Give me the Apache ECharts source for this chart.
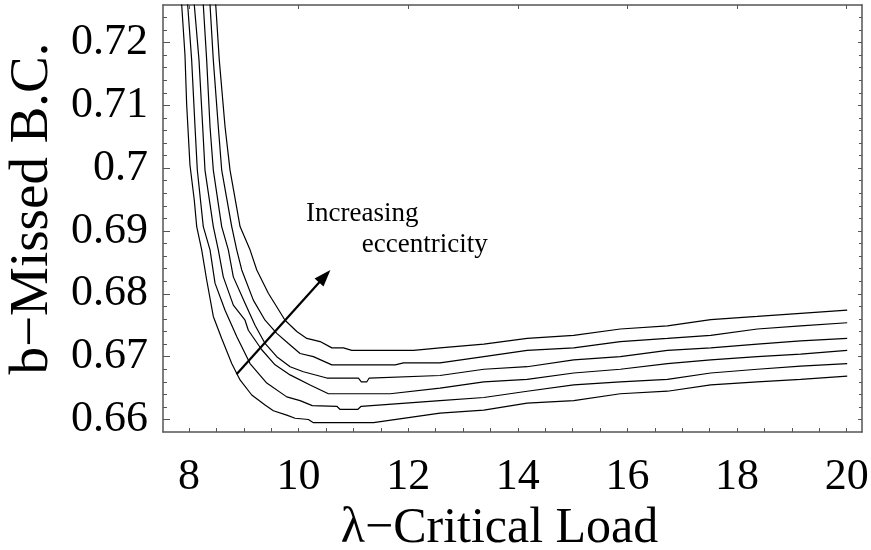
<!DOCTYPE html>
<html>
<head>
<meta charset="utf-8">
<script src="https://cdn.jsdelivr.net/npm/echarts@6/dist/echarts.min.js"></script>
<style>
html,body{margin:0;padding:0;background:#fff;}
#chart{width:871px;height:550px;}
</style>
</head>
<body>
<div id="chart"></div>
<script>
// ---- data (λ, b) ----
const curve1 = [[7.832,0.7300],[7.867,0.7260],[7.927,0.7180],[7.958,0.7101],[8.018,0.7005],[8.097,0.6949],[8.141,0.6907],[8.232,0.6870],[8.323,0.6822],[8.444,0.6764],[8.597,0.6729],[8.780,0.6689],[8.932,0.6663],[9.145,0.6639],[9.388,0.6623],[9.540,0.6614],[9.784,0.6607],[9.936,0.6602],[10.179,0.6600],[10.270,0.6595],[11.366,0.6595],[12.58,0.6610],[13.38,0.6615],[14.17,0.6626],[15.02,0.6630],[15.87,0.6641],[16.73,0.6645],[17.52,0.6655],[18.37,0.6660],[19.16,0.6664],[20.01,0.6669]];
const curve2 = [[7.943,0.7300],[7.976,0.7260],[8.049,0.7172],[8.110,0.7066],[8.152,0.6997],[8.261,0.6907],[8.384,0.6870],[8.475,0.6817],[8.658,0.6774],[8.871,0.6732],[9.114,0.6689],[9.419,0.6658],[9.784,0.6636],[10.027,0.6630],[10.25,0.6622],[10.698,0.6621],[10.758,0.6616],[11.078,0.6616],[11.142,0.6621],[12.58,0.6630],[13.38,0.6635],[14.17,0.6645],[15.02,0.6655],[15.87,0.6660],[16.73,0.6664],[17.52,0.6674],[18.37,0.6680],[19.16,0.6685],[20.01,0.6689]];
const curve3 = [[8.058,0.7300],[8.097,0.7260],[8.183,0.7172],[8.250,0.7066],[8.292,0.6997],[8.444,0.6907],[8.535,0.6870],[8.626,0.6827],[8.809,0.6782],[9.023,0.6758],[9.083,0.6742],[9.328,0.6711],[9.571,0.6687],[9.845,0.6671],[10.210,0.6655],[10.544,0.6641],[11.671,0.6641],[12.58,0.6650],[13.38,0.6660],[14.17,0.6664],[15.02,0.6674],[15.87,0.6680],[16.73,0.6689],[17.52,0.6695],[18.37,0.6700],[19.16,0.6704],[20.01,0.6710]];
const curve4 = [[8.234,0.7300],[8.261,0.7260],[8.323,0.7172],[8.384,0.7066],[8.444,0.6997],[8.597,0.6907],[8.718,0.6870],[8.809,0.6827],[9.023,0.6785],[9.205,0.6750],[9.388,0.6721],[9.602,0.6700],[9.845,0.6684],[10.088,0.6676],[10.515,0.6666],[11.092,0.6666],[11.145,0.6660],[11.246,0.6660],[11.288,0.6666],[12.58,0.6670],[13.38,0.6680],[14.17,0.6684],[15.02,0.6695],[15.87,0.6700],[16.73,0.6710],[17.52,0.6714],[18.37,0.6720],[19.16,0.6725],[20.01,0.6729]];
const curve5 = [[8.356,0.7300],[8.384,0.7260],[8.444,0.7172],[8.535,0.7066],[8.597,0.6997],[8.780,0.6907],[8.871,0.6870],[8.963,0.6838],[9.174,0.6790],[9.388,0.6758],[9.602,0.6737],[9.814,0.6721],[10.027,0.6705],[10.270,0.6700],[10.606,0.6687],[11.763,0.6687],[11.914,0.6690],[12.58,0.6690],[13.38,0.6700],[14.17,0.6710],[15.02,0.6714],[15.87,0.6724],[16.73,0.6729],[17.52,0.6734],[18.37,0.6744],[19.16,0.6749],[20.01,0.6754]];
const curve6 = [[8.458,0.7300],[8.488,0.7260],[8.553,0.7172],[8.658,0.7066],[8.749,0.6997],[8.932,0.6907],[9.114,0.6870],[9.237,0.6838],[9.448,0.6801],[9.753,0.6758],[9.967,0.6740],[10.150,0.6729],[10.393,0.6724],[10.607,0.6714],[10.818,0.6714],[10.971,0.6710],[12.097,0.6710],[12.58,0.6714],[13.38,0.6720],[14.17,0.6729],[15.02,0.6734],[15.87,0.6744],[16.73,0.6749],[17.52,0.6759],[18.37,0.6764],[19.16,0.6769],[20.01,0.6774]];

// ---- tick labels / ticks ----
const xTickLabels = [8,10,12,14,16,18,20];
const xMinorTicks = [8,8.5,9,9.5,10,10.5,11,11.5,12,12.5,13,13.5,14,14.5,15,15.5,16,16.5,17,17.5,18,18.5,19,19.5,20];
const yTickLabels = [0.66,0.67,0.68,0.69,0.70,0.71,0.72];
const yMinorTicks = [0.662,0.664,0.666,0.668,0.672,0.674,0.676,0.678,0.682,0.684,0.686,0.688,0.692,0.694,0.696,0.698,0.702,0.704,0.706,0.708,0.712,0.714,0.716,0.718,0.722,0.724];

// ---- annotation ----
const arrowFrom = [8.868, 0.6672];
const arrowTo = [10.477, 0.6828];
const annoTexts = [
  {text: 'Increasing', at: [10.137, 0.6927]},
  {text: 'eccentricity', at: [11.154, 0.6878]}
];

const FONT = '"Liberation Serif", "DejaVu Serif", serif';
const X_MIN = 7.526, X_MAX = 20.28, Y_MIN = 0.65801, Y_MAX = 0.72597;
const frameColor = '#555';

const chart = echarts.init(document.getElementById('chart'));

function lineSeries(d){
  return {type:'line', data:d, xAxisIndex:0, yAxisIndex:0, symbol:'none', smooth:false,
    lineStyle:{color:'#000', width:1.2}, clip:true, silent:true, animation:false};
}

const option = {
  animation:false,
  backgroundColor:'#fff',
  grid:{left:163, top:5, width:699, height:427, containLabel:false, outerBoundsMode:'none'},
  xAxis:[
    {type:'value', position:'bottom', min:X_MIN, max:X_MAX,
     axisLine:{show:true, onZero:false, lineStyle:{color:frameColor, width:1.5}},
     axisTick:{show:true, inside:true, length:4, customValues:xMinorTicks, lineStyle:{color:frameColor, width:1}},
     axisLabel:{show:true, customValues:xTickLabels, fontSize:44, fontFamily:FONT, color:'#000', margin:23},
     splitLine:{show:false},
     name:'λ−Critical Load', nameLocation:'middle', nameGap:61,
     nameTextStyle:{fontSize:50, fontFamily:FONT, color:'#000', padding:[0,26,0,0]}},
    {type:'value', position:'top', min:X_MIN, max:X_MAX,
     axisLine:{show:true, onZero:false, lineStyle:{color:frameColor, width:1.5}},
     axisTick:{show:true, inside:true, length:4, customValues:xTickLabels, lineStyle:{color:frameColor, width:1}},
     axisLabel:{show:false}, splitLine:{show:false}}
  ],
  yAxis:[
    {type:'value', position:'left', min:Y_MIN, max:Y_MAX,
     axisLine:{show:true, onZero:false, lineStyle:{color:frameColor, width:1.5}},
     axisTick:{show:true, inside:true, length:7, customValues:yTickLabels, lineStyle:{color:frameColor, width:1}},
     axisLabel:{show:true, customValues:yTickLabels, fontSize:44, fontFamily:FONT, color:'#000', margin:15},
     splitLine:{show:false},
     name:'b−Missed B.C.', nameLocation:'middle', nameGap:100, nameRotate:90,
     nameTextStyle:{fontSize:55, fontFamily:FONT, color:'#000', padding:[0,0,0,20]}},
    {type:'value', position:'left', min:Y_MIN, max:Y_MAX,
     axisLine:{show:false},
     axisTick:{show:true, inside:true, length:4, customValues:yMinorTicks, lineStyle:{color:frameColor, width:1}},
     axisLabel:{show:false}, splitLine:{show:false}},
    {type:'value', position:'right', min:Y_MIN, max:Y_MAX,
     axisLine:{show:true, onZero:false, lineStyle:{color:frameColor, width:1.5}},
     axisTick:{show:true, inside:true, length:4, customValues:yTickLabels, lineStyle:{color:frameColor, width:1}},
     axisLabel:{show:false}, splitLine:{show:false}},
    {type:'value', position:'right', min:Y_MIN, max:Y_MAX,
     axisLine:{show:false},
     axisTick:{show:true, inside:true, length:3, customValues:yMinorTicks, lineStyle:{color:frameColor, width:1}},
     axisLabel:{show:false}, splitLine:{show:false}}
  ],
  series:[
    lineSeries(curve1), lineSeries(curve2), lineSeries(curve3),
    lineSeries(curve4), lineSeries(curve5), lineSeries(curve6),
    {type:'line', data:[], xAxisIndex:0, yAxisIndex:0, silent:true, animation:false,
     markLine:{silent:true, animation:false, symbol:['none','triangle'], symbolSize:[12,17],
       label:{show:false},
       lineStyle:{color:'#000', width:2.2, type:'solid'},
       data:[[{coord:arrowFrom}, {coord:arrowTo}]]},
     markPoint:{silent:true, animation:false, symbol:'circle', symbolSize:0,
       label:{show:true, position:[0,0], align:'left', verticalAlign:'middle',
         fontSize:27, fontFamily:FONT, color:'#000',
         formatter:function(p){return p.name;}},
       data:annoTexts.map(a=>({name:a.text, coord:a.at}))}
    }
  ]
};
chart.setOption(option);
</script>
</body>
</html>
